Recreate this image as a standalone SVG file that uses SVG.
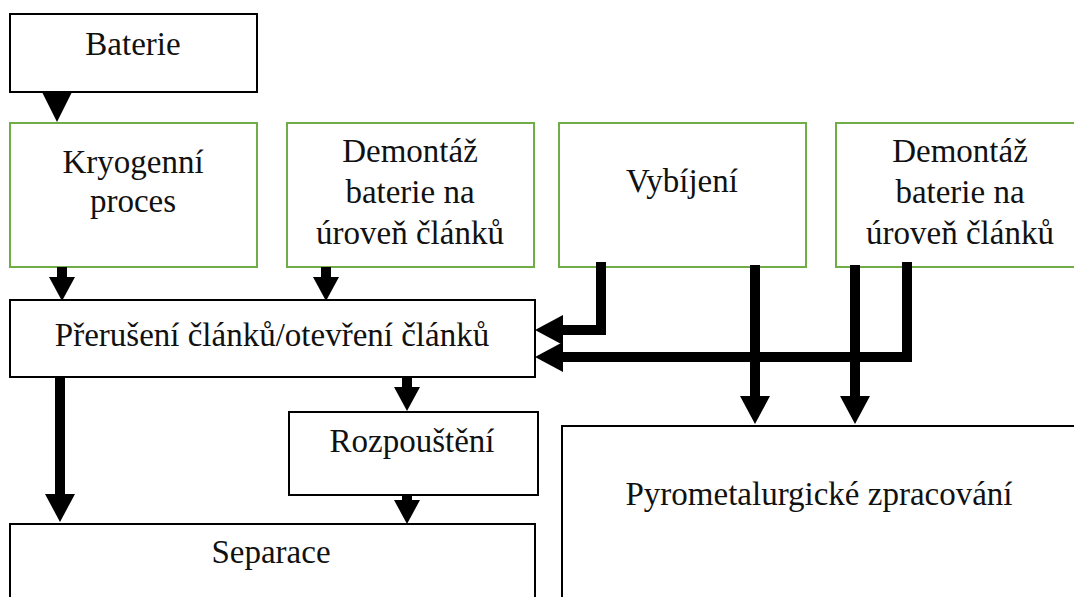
<svg xmlns="http://www.w3.org/2000/svg" width="1074" height="597" viewBox="0 0 1074 597">
<style>
.b{fill:#fff;stroke:#000;stroke-width:2}
.g{fill:#fff;stroke:#70AD47;stroke-width:2}
.t{font-family:'Liberation Serif','DejaVu Serif',serif;font-size:33px;fill:#111;text-anchor:middle}
.c{fill:none;stroke:#000;stroke-width:10;stroke-linejoin:miter;stroke-linecap:butt}
</style>
<defs>
<marker id="ah" markerUnits="userSpaceOnUse" markerWidth="28" markerHeight="30" refX="0" refY="15" orient="auto" viewBox="0 0 28 30">
<path d="M0,0 L28,15 L0,30 Z" fill="#000"/>
</marker>
<marker id="as" markerUnits="userSpaceOnUse" markerWidth="24" markerHeight="26" refX="0" refY="13" orient="auto" viewBox="0 0 24 26">
<path d="M0,0 L24,13 L0,26 Z" fill="#000"/>
</marker>
</defs>
<rect width="1074" height="597" fill="#fff"/>
<g id="baterie"><rect class="b" x="10" y="14" width="247" height="78"/><text class="t" font-family="Liberation Serif, serif" x="133" y="55">Baterie</text></g>
<g id="kryogenni"><rect class="g" x="10" y="123" width="247" height="144"/><text class="t" x="133" y="173">Kryogenní</text><text class="t" x="133" y="212">proces</text></g>
<g id="demontaz1"><rect class="g" x="287" y="123" width="247" height="144"/><text class="t" x="410" y="162">Demontáž</text><text class="t" x="410" y="203">baterie na</text><text class="t" x="410" y="244">úroveň článků</text></g>
<g id="vybijeni"><rect class="g" x="559" y="123" width="247" height="144"/><text class="t" x="682" y="192">Vybíjení</text></g>
<g id="demontaz2"><rect class="g" x="836" y="123" width="247" height="144"/><text class="t" x="960" y="162">Demontáž</text><text class="t" x="960" y="203">baterie na</text><text class="t" x="960" y="244">úroveň článků</text></g>
<g id="preruseni"><rect class="b" x="10" y="300" width="525" height="77"/><text class="t" x="272" y="346">Přerušení článků/otevření článků</text></g>
<g id="rozpousteni"><rect class="b" x="289" y="412" width="249" height="83"/><text class="t" x="412" y="452">Rozpouštění</text></g>
<g id="separace"><rect class="b" x="10" y="524" width="525" height="90"/><text class="t" x="271" y="563">Separace</text></g>
<g id="pyro"><rect class="b" x="562" y="426" width="530" height="200"/><text class="t" x="819" y="505">Pyrometalurgické zpracování</text></g>
<g id="connectors">
<polygon points="42,92 72,92 57,122" fill="#000"/>
<path class="c" d="M62,267 V277" marker-end="url(#as)"/>
<path class="c" d="M326,267 V277" marker-end="url(#as)"/>
<path class="c" d="M601,262 V330 H563" marker-end="url(#ah)"/>
<path class="c" d="M907,262 V357 H563" marker-end="url(#ah)"/>
<path class="c" d="M755,265 V396" marker-end="url(#ah)"/>
<path class="c" d="M855,265 V396" marker-end="url(#ah)"/>
<path class="c" d="M60,377 V494" marker-end="url(#ah)"/>
<path class="c" d="M407,377 V387" marker-end="url(#as)"/>
<path class="c" d="M407,495 V500" marker-end="url(#as)"/>
</g>
</svg>
